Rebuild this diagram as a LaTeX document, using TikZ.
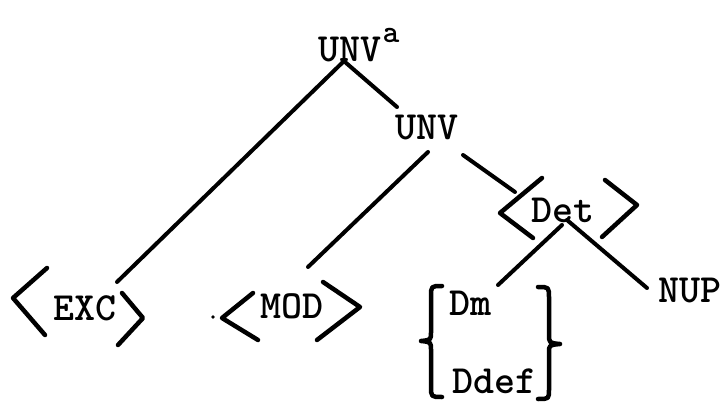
\documentclass[tikz,border=0pt]{standalone}
\usepackage{fontspec}
\usepackage{tikz}
\usetikzlibrary{calc}

\begin{document}
\begin{tikzpicture}[
    x=1pt, y=-1pt,
    lbl/.style={inner sep=0pt, font=\ttfamily\bfseries\fontsize{40}{44}\selectfont},
    edge/.style={line width=4pt, line cap=round},
    brk/.style={line width=4.5pt, line cap=round, line join=round}
]
    \useasboundingbox (0,0) rectangle (725,403);

    % Nodes
    \node[lbl] (unva) at (350,45) {UNV\rlap{\kern1pt\raisebox{19pt}{\fontsize{32}{34}\selectfont a}}};
    \node[lbl] (unv) at (427,128) {UNV};
    \node[lbl] (exc) at (85,308) {EXC};
    \node[lbl] (mod) at (292,306) {MOD};
    \node[lbl] (det) at (563,210) {Det};
    \node[lbl] (nup) at (690,290) {NUP};
    \node[lbl] (dm) at (470,303) {Dm};
    \node[lbl] (ddef) at (494,381) {Ddef};

    % Branches
    \foreach \a/\sa/\b/\sb in {unva/{(-7,17)}/exc/{(32,-26)},
                               unva/{(-5,17)}/unv/{(-30,-21)},
                               unv/{(1,24)}/mod/{(16,-39)},
                               unv/{(36,27)}/det/{(-48,-18)},
                               det/{(-1,15)}/dm/{(28,-18)},
                               det/{(4,10)}/nup/{(-43,-2)}} {
        \draw[edge] ([shift={\sa}]\a.center) -- ([shift={\sb}]\b.center);
    }

    % Angle brackets
    \draw[brk] ([shift={(-38,-40)}]exc.center) -- ([shift={(-72,-10)}]exc.center) -- ([shift={(-40,27)}]exc.center);
    \draw[brk] ([shift={(37,-15)}]exc.center) -- ([shift={(58,10)}]exc.center) -- ([shift={(33,37)}]exc.center);
    \draw[brk] ([shift={(-39,-13)}]mod.center) -- ([shift={(-70,12)}]mod.center) -- ([shift={(-34,34)}]mod.center);
    \draw[brk] ([shift={(31,-24)}]mod.center) -- ([shift={(68,1)}]mod.center) -- ([shift={(25,34)}]mod.center);
    \draw[brk] ([shift={(-21,-32)}]det.center) -- ([shift={(-63,3)}]det.center) -- ([shift={(-30,28)}]det.center);
    \draw[brk] ([shift={(42,-30)}]det.center) -- ([shift={(74,-5)}]det.center) -- ([shift={(39,27)}]det.center);
    \fill ([shift={(-79,11)}]mod.center) circle (1.8);

    % Braces
    \draw[brk] (442,286) .. controls (431,286) .. (431,297) -- (431,332)
        .. controls (431,340) .. (421,341) .. controls (431,342) .. (431,350)
        -- (431,386) .. controls (431,397) .. (442,397);
    \draw[brk] (538,287) .. controls (549,287) .. (549,298) -- (549,334)
        .. controls (549,343) .. (560,344) .. controls (549,345) .. (549,353)
        -- (549,389) .. controls (549,399) .. (538,399);
\end{tikzpicture}
\end{document}
